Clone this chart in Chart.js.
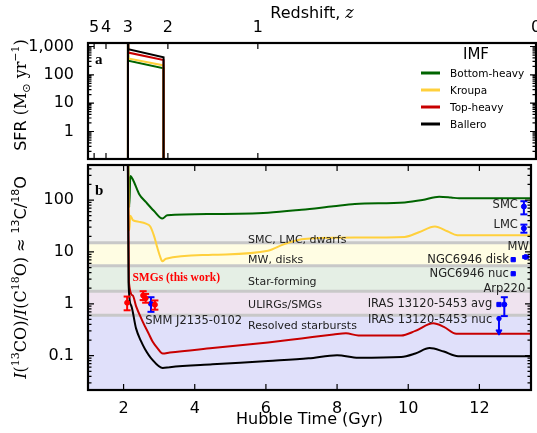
<!DOCTYPE html>
<html><head><meta charset="utf-8">
<script src="https://cdn.jsdelivr.net/npm/chart.js@4.4.1/dist/chart.umd.min.js"></script>
<style>
 html,body{margin:0;padding:0;background:#fff;overflow:hidden}
 canvas{position:absolute;left:0}
 #ca{top:0}
 #cb{top:159px}
</style></head>
<body>
<canvas id="ca" width="537" height="162"></canvas>
<canvas id="cb" width="537" height="274"></canvas>
<script>
// ================= DATA =================
const imfNames = ['Bottom-heavy', 'Kroupa', 'Top-heavy', 'Ballero'];

// top axis: redshift labels and the Hubble time (Gyr) at which they fall
const redshiftLabels = ['5', '4', '3', '2', '1', '0'];
const redshiftTimes  = [1.17, 1.50, 2.11, 3.22, 5.72, 13.45];

// bottom axis ticks (Hubble time, Gyr)
const timeTicks = [2, 4, 6, 8, 10, 12];
// panel a ticks
const sfrTicks = [1, 10, 100, 1000];
const sfrTickLabels = ['1', '10', '100', '1,000'];
// panel b ticks
const ratioTicks = [0.1, 1, 10, 100];
const ratioTickLabels = ['0.1', '1', '10', '100'];

// ---- panel a: star formation rate (Msun / yr) ----
const sfrTime        = [2.11, 2.11, 2.12, 3.10, 3.10];
const sfrBottomHeavy = [0.001, 1e4, 315, 170, 0.001];
const sfrKroupa      = [0.001, 1e4, 380, 215, 0.001];
const sfrTopHeavy    = [0.001, 1e4, 610, 335, 0.001];
const sfrBallero     = [0.001, 1e4, 800, 420, 0.001];

// ---- panel b: I(13CO)/I(C18O) model tracks ----
const bottomHeavyTime  = [2.11, 2.16, 2.19, 2.26, 2.44, 2.63, 2.85, 3.09, 3.23, 4.5, 6.06, 7.0, 7.9, 8.5, 9.9, 10.4, 10.87, 11.2, 11.43, 13.45];
const bottomHeavyRatio = [1e4, 73, 290, 250, 130, 91, 62, 44, 51, 54, 57, 65, 76, 84, 90, 100, 116, 112, 108, 108];

const kroupaTime  = [2.11, 2.16, 2.19, 2.26, 2.44, 2.63, 2.75, 2.86, 2.95, 3.03, 3.09, 3.19, 4.5, 6.06, 6.5, 7.0, 7.5, 8.5, 9.9, 10.3, 10.75, 11.1, 11.38, 13.45];
const kroupaRatio = [1e4, 26, 50, 41, 38, 35, 31, 20, 12, 8, 6.6, 7.4, 8.8, 10.5, 14, 17.5, 18.5, 19, 19.5, 24, 31, 25, 21, 21];

const topHeavyTime  = [2.11, 2.15, 2.26, 2.35, 2.54, 2.7, 2.81, 2.95, 3.1, 3.3, 4.5, 6.06, 7.0, 7.9, 8.25, 8.6, 9.8, 10.2, 10.7, 11.0, 11.35, 13.45];
const topHeavyRatio = [1e4, 2.6, 1.44, 0.9, 0.45, 0.27, 0.19, 0.14, 0.11, 0.115, 0.14, 0.18, 0.215, 0.255, 0.27, 0.245, 0.245, 0.3, 0.42, 0.36, 0.265, 0.265];

const balleroTime  = [2.11, 2.14, 2.21, 2.35, 2.49, 2.6, 2.8, 3.1, 3.3, 4.5, 6.06, 7.2, 8.0, 8.6, 9.8, 10.2, 10.6, 11.0, 11.4, 13.45];
const balleroRatio = [1e4, 2.5, 0.94, 0.336, 0.19, 0.135, 0.085, 0.058, 0.06, 0.068, 0.079, 0.089, 0.102, 0.091, 0.094, 0.11, 0.14, 0.12, 0.098, 0.098];

// ---- observations ----
// SMGs (this work)
const smgTime  = [2.10, 2.55, 2.62, 2.88];
const smgRatio = [1.05, 1.45, 1.28, 0.96];
const smgLow   = [0.75, 1.18, 1.05, 0.77];
const smgHigh  = [1.38, 1.75, 1.55, 1.16];
// SMM J2135-0102
const smmTime  = [2.77];
const smmRatio = [1.0];
const smmLow   = [0.70];
const smmHigh  = [1.34];
// local galaxies with error bars
const localNames = ['SMC', 'LMC', 'MW', 'Arp220'];
const localTime  = [13.25, 13.25, 13.30, 12.70];
const localRatio = [75, 28.5, 8.0, 0.97];
const localLow   = [53, 23.5, 7.7, 0.58];
const localHigh  = [95, 33.6, 8.3, 1.34];
// local galaxies without error bars
const squareNames = ['NGC6946 disk', 'NGC6946 nuc', 'IRAS 13120-5453 avg'];
const squareTime  = [12.95, 12.95, 12.55];
const squareRatio = [7.1, 3.8, 0.97];
// IRAS 13120-5453 nucleus: upper limit
const irasNucTime  = [12.55];
const irasNucTop   = [0.52];
const irasNucLimit = [0.29];

// reference ranges (bands)
const bandEdges  = [15, 5.4, 1.75, 0.6];
const bandLabels = ['SMC, LMC, dwarfs', 'MW, disks', 'Star-forming', 'ULIRGs/SMGs', 'Resolved starbursts'];

// ================= STYLE / LAYOUT =================
const imfColors = ['#006400', '#ffd03c', '#c80000', '#000000'];
const bandColors = ['#f0f0f0', '#fffde3', '#e5efe5', '#efe3ef', '#e0e0fa'];
const SANS = '"DejaVu Sans"';
const SERIF = '"DejaVu Serif"';
const tMin = 1.0, tMax = 13.45;

const xy = (ts, vs) => ts.map((t, i) => ({x: t, y: vs[i]}));
function errData(ts, lo, hi) {
  const d = [];
  ts.forEach((t, i) => { d.push({x: t, y: lo[i]}, {x: t, y: hi[i]}, {x: null, y: null}); });
  return d;
}

function richText(ctx, segs, x, y, rot, align) {
  ctx.save();
  ctx.translate(x, y);
  if (rot) ctx.rotate(rot);
  let w = 0;
  segs.forEach(s => { ctx.font = s.f; s.w = ctx.measureText(s.t).width; w += s.w; });
  let cx = align === 'center' ? -w / 2 : (align === 'right' ? -w : 0);
  ctx.textAlign = 'left';
  ctx.textBaseline = 'alphabetic';
  segs.forEach(s => { ctx.font = s.f; ctx.fillStyle = s.c || '#000'; ctx.fillText(s.t, cx, s.dy || 0); cx += s.w; });
  ctx.restore();
}

function frameAndTicks(chart, xTickVals, xId, yId) {
  const {ctx, chartArea: a} = chart;
  const xs = chart.scales[xId], ys = chart.scales[yId];
  ctx.save();
  ctx.strokeStyle = '#000';
  ctx.lineWidth = 1.2;
  ctx.beginPath();
  xTickVals.forEach(v => {
    const px = xs.getPixelForValue(v);
    if (px < a.left - 0.5 || px > a.right + 0.5) return;
    ctx.moveTo(px, a.bottom); ctx.lineTo(px, a.bottom - 6);
    ctx.moveTo(px, a.top); ctx.lineTo(px, a.top + 6);
  });
  const lo = Math.floor(Math.log10(ys.min)), hi = Math.ceil(Math.log10(ys.max));
  for (let k = lo; k <= hi; k++) {
    for (let m = 1; m <= 9; m++) {
      const v = m * Math.pow(10, k);
      if (v < ys.min || v > ys.max) continue;
      const py = ys.getPixelForValue(v);
      const L = m === 1 ? 6 : 3.5;
      ctx.moveTo(a.left, py); ctx.lineTo(a.left + L, py);
      ctx.moveTo(a.right, py); ctx.lineTo(a.right - L, py);
    }
  }
  ctx.stroke();
  ctx.lineWidth = 2.2;
  ctx.strokeRect(a.left, a.top, a.right - a.left, a.bottom - a.top);
  ctx.restore();
}

const tickFont = {family: SANS, size: 16};
const fitY = s => { s.width = 88; s.paddingTop = 0; s.paddingBottom = 0; };

// ================= PANEL A =================
const sfrSeries = [sfrBottomHeavy, sfrKroupa, sfrTopHeavy, sfrBallero];
const panelAPlugin = {
  id: 'panelA',
  afterDraw(chart) {
    const ctx = chart.ctx, a = chart.chartArea;
    frameAndTicks(chart, redshiftTimes, 'x', 'y');
    // top title
    richText(ctx, [
      {t: 'Redshift, ', f: '16px ' + SANS},
      {t: 'z', f: 'italic 16px ' + SERIF}
    ], (a.left + a.right) / 2, 18, 0, 'center');
    // y title
    richText(ctx, [
      {t: 'SFR ', f: '16px ' + SANS},
      {t: '(M', f: '16px ' + SERIF},
      {t: '\u2299', f: '11px ' + SANS, dy: 4},
      {t: ' yr', f: '16px ' + SERIF},
      {t: '\u22121', f: '11px ' + SERIF, dy: -7},
      {t: ')', f: '16px ' + SERIF}
    ], 26, 95, -Math.PI / 2, 'center');
    // panel letter
    richText(ctx, [{t: 'a', f: 'bold 15px "Liberation Serif"'}], a.left + 7, a.top + 21, 0, 'left');
    // legend
    ctx.save();
    ctx.fillStyle = '#000';
    ctx.font = '15px ' + SANS;
    ctx.textAlign = 'center';
    ctx.textBaseline = 'middle';
    ctx.fillText('IMF', 476, 55);
    ctx.font = '10.5px ' + SANS;
    ctx.textAlign = 'left';
    chart.data.datasets.forEach((ds, i) => {
      const yy = 73 + i * 17;
      ctx.strokeStyle = ds.borderColor;
      ctx.lineWidth = 3;
      ctx.beginPath(); ctx.moveTo(421, yy); ctx.lineTo(440, yy); ctx.stroke();
      ctx.fillStyle = '#000';
      ctx.fillText(ds.label, 450, yy + 1);
    });
    ctx.restore();
  }
};

new Chart(document.getElementById('ca'), {
  type: 'line',
  data: {
    datasets: imfNames.map((n, i) => ({
      label: n, data: xy(sfrTime, sfrSeries[i]),
      borderColor: imfColors[i], backgroundColor: imfColors[i],
      borderWidth: 2, pointRadius: 0, tension: 0, order: 4 - i
    }))
  },
  options: {
    responsive: false, animation: false, devicePixelRatio: 1,
    layout: {padding: {top: 0, right: 1, bottom: 3, left: 0}},
    plugins: {legend: {display: false}, tooltip: {enabled: false}},
    scales: {
      x: {type: 'linear', position: 'bottom', min: tMin, max: tMax, display: false},
      xTop: {
        type: 'linear', position: 'top', min: tMin, max: tMax,
        grid: {display: false}, border: {display: false},
        afterBuildTicks: s => { s.ticks = redshiftTimes.map(v => ({value: v})); },
        afterFit: s => { s.height = 43; s.paddingLeft = 0; s.paddingRight = 0; },
        ticks: {autoSkip: false, maxRotation: 0, padding: -2.5, font: tickFont, color: '#000',
                callback: (v, i) => redshiftLabels[i]}
      },
      y: {
        type: 'logarithmic', min: 0.107, max: 1330,
        grid: {display: false}, border: {display: false},
        afterBuildTicks: s => { s.ticks = sfrTicks.map(v => ({value: v})); },
        afterFit: fitY,
        ticks: {autoSkip: false, padding: 6, font: tickFont, color: '#000',
                callback: (v, i) => sfrTickLabels[i]}
      }
    }
  },
  plugins: [panelAPlugin]
});

// ================= PANEL B =================
const ratioSeries = [
  [bottomHeavyTime, bottomHeavyRatio], [kroupaTime, kroupaRatio],
  [topHeavyTime, topHeavyRatio], [balleroTime, balleroRatio]
];

// text labels placed in data coordinates (time, ratio)
const bandLabelAt = [[5.5, 16.8], [5.5, 7.0], [5.5, 2.58], [5.5, 0.945], [5.5, 0.378]];
const pointLabels = [
  {text: 'SMC', t: 13.08, v: 80, align: 'right'},
  {text: 'LMC', t: 13.08, v: 33.5, align: 'right'},
  {text: 'MW', t: 13.09, v: 12.2, align: 'center'},
  {text: 'NGC6946 disk', t: 12.83, v: 7.0, align: 'right'},
  {text: 'NGC6946 nuc', t: 12.83, v: 3.8, align: 'right'},
  {text: 'Arp220', t: 12.70, v: 1.9, align: 'center'},
  {text: 'IRAS 13120-5453 avg', t: 12.36, v: 0.99, align: 'right'},
  {text: 'IRAS 13120-5453 nuc', t: 12.36, v: 0.49, align: 'right'},
  {text: 'SMM J2135-0102', t: 2.61, v: 0.47, align: 'left'}
];

const panelBPlugin = {
  id: 'panelB',
  beforeDatasetsDraw(chart) {
    const {ctx, chartArea: a, scales: {y}} = chart;
    const edges = [y.max].concat(bandEdges).concat([y.min]);
    ctx.save();
    for (let i = 0; i < edges.length - 1; i++) {
      const y0 = Math.max(a.top, y.getPixelForValue(edges[i]));
      const y1 = Math.min(a.bottom, y.getPixelForValue(edges[i + 1]));
      ctx.fillStyle = bandColors[i];
      ctx.fillRect(a.left, y0, a.right - a.left, y1 - y0);
    }
    ctx.strokeStyle = '#c8c8c8';
    ctx.lineWidth = 3;
    bandEdges.forEach(v => {
      const py = y.getPixelForValue(v);
      ctx.beginPath(); ctx.moveTo(a.left, py); ctx.lineTo(a.right, py); ctx.stroke();
    });
    ctx.restore();
  },
  afterDraw(chart) {
    const {ctx, chartArea: a, scales: {x, y}} = chart;
    ctx.save();
    ctx.fillStyle = '#222';
    ctx.textBaseline = 'middle';
    ctx.font = '11px ' + SANS;
    ctx.textAlign = 'left';
    bandLabels.forEach((s, i) => {
      ctx.fillText(s, x.getPixelForValue(bandLabelAt[i][0]), y.getPixelForValue(bandLabelAt[i][1]));
    });
    ctx.font = '11.5px ' + SANS;
    pointLabels.forEach(p => {
      ctx.textAlign = p.align;
      ctx.fillText(p.text, x.getPixelForValue(p.t), y.getPixelForValue(p.v));
    });
    ctx.fillStyle = '#ff0000';
    ctx.textAlign = 'left';
    ctx.font = 'bold 11.5px "Liberation Serif"';
    ctx.fillText('SMGs (this work)', x.getPixelForValue(2.25), y.getPixelForValue(3.2));
    ctx.restore();
    frameAndTicks(chart, timeTicks, 'x', 'y');
    richText(ctx, [{t: 'b', f: 'bold 15px "Liberation Serif"'}], a.left + 7, a.top + 30, 0, 'left');
    // y title
    const sup = 7;
    richText(ctx, [
      {t: 'I', f: 'italic 16px ' + SERIF},
      {t: '(', f: '16px ' + SERIF},
      {t: '13', f: '11px ' + SERIF, dy: -sup},
      {t: 'CO)/', f: '16px ' + SERIF},
      {t: 'I', f: 'italic 16px ' + SERIF},
      {t: '(C', f: '16px ' + SERIF},
      {t: '18', f: '11px ' + SERIF, dy: -sup},
      {t: 'O)', f: '16px ' + SERIF},
      {t: ' \u2248 ', f: '16px ' + SANS},
      {t: '13', f: '11px ' + SANS, dy: -sup},
      {t: 'C/', f: '16px ' + SANS},
      {t: '18', f: '11px ' + SANS, dy: -sup},
      {t: 'O', f: '16px ' + SANS}
    ], 26, (a.top + a.bottom) / 2, -Math.PI / 2, 'center');
  }
};

const lineDs = ratioSeries.map((s, i) => ({
  label: imfNames[i], data: xy(s[0], s[1]),
  borderColor: imfColors[i], backgroundColor: imfColors[i],
  borderWidth: 2, pointRadius: 0, cubicInterpolationMode: 'monotone', order: 5 - i
}));

const errStyle = (color) => ({
  borderColor: color, backgroundColor: color, borderWidth: 2,
  pointStyle: 'line', pointRadius: 3.5, pointBorderWidth: 2, pointBorderColor: color,
  showLine: true, spanGaps: false, tension: 0, order: 0
});
const markStyle = (color, style, r) => ({
  borderColor: color, backgroundColor: color, pointBackgroundColor: color, pointBorderColor: color,
  pointStyle: style, pointRadius: r, pointBorderWidth: 1, showLine: false, order: 0
});

const obsDs = [
  Object.assign({label: 'SMG err', data: errData(smgTime, smgLow, smgHigh)}, errStyle('#ff0000')),
  Object.assign({label: 'SMG', data: xy(smgTime, smgRatio)}, markStyle('#ff0000', 'circle', 2.5)),
  Object.assign({label: 'SMM err', data: errData(smmTime, smmLow, smmHigh)}, errStyle('#0000ff')),
  Object.assign({label: 'SMM', data: xy(smmTime, smmRatio)}, markStyle('#0000ff', 'circle', 2.5)),
  Object.assign({label: 'local err', data: errData(localTime, localLow, localHigh)}, errStyle('#0000ff')),
  Object.assign({label: 'local', data: xy(localTime, localRatio)}, markStyle('#0000ff', 'circle', 2.5)),
  Object.assign({label: 'local sq', data: xy(squareTime, squareRatio)}, markStyle('#0000ff', 'rect', 3)),
  {
    label: 'IRAS nuc limit', data: [{x: irasNucTime[0], y: irasNucTop[0]}, {x: irasNucTime[0], y: irasNucLimit[0]}],
    borderColor: '#0000ff', backgroundColor: '#0000ff', borderWidth: 2, showLine: true,
    pointStyle: ['circle', 'triangle'], rotation: [0, 180], pointRadius: [2.2, 3.5],
    pointBackgroundColor: '#0000ff', pointBorderColor: '#0000ff', pointBorderWidth: 1, order: 0
  }
];

new Chart(document.getElementById('cb'), {
  type: 'line',
  data: {datasets: lineDs.concat(obsDs)},
  options: {
    responsive: false, animation: false, devicePixelRatio: 1,
    layout: {padding: {top: 2, right: 1, bottom: 0, left: 0}},
    plugins: {legend: {display: false}, tooltip: {enabled: false}},
    scales: {
      x: {
        type: 'linear', position: 'bottom', min: tMin, max: tMax,
        grid: {display: false}, border: {display: false},
        afterBuildTicks: s => { s.ticks = timeTicks.map(v => ({value: v})); },
        afterFit: s => { s.height = 43; s.paddingLeft = 0; s.paddingRight = 0; },
        ticks: {autoSkip: false, maxRotation: 0, padding: 1, font: tickFont, color: '#000'},
        title: {display: true, text: 'Hubble Time (Gyr)', font: {family: SANS, size: 16}, color: '#000',
                padding: {top: 0, bottom: 3.4}}
      },
      y: {
        type: 'logarithmic', min: 0.0218, max: 474,
        grid: {display: false}, border: {display: false},
        afterBuildTicks: s => { s.ticks = ratioTicks.map(v => ({value: v})); },
        afterFit: fitY,
        ticks: {autoSkip: false, padding: 6, font: tickFont, color: '#000',
                callback: (v, i) => ratioTickLabels[i]}
      }
    }
  },
  plugins: [panelBPlugin]
});
</script>
</body></html>
